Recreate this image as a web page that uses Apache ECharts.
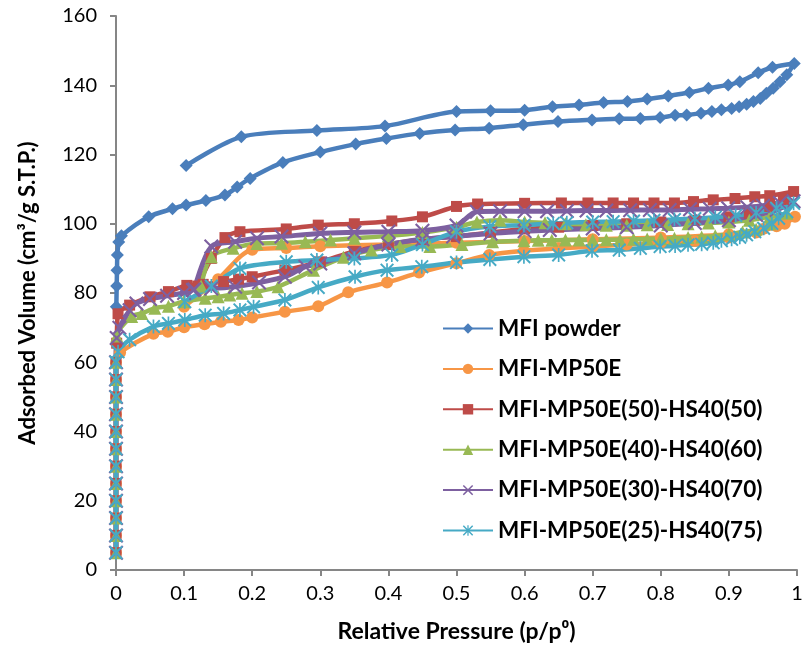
<!DOCTYPE html>
<html>
<head>
<meta charset="utf-8">
<script src="https://cdn.jsdelivr.net/npm/echarts@6/dist/echarts.min.js"></script>
<style>html,body{margin:0;padding:0;background:#fff}#c{width:806px;height:652px}</style>
</head>
<body>
<div id="c"></div>
<script>
// ---- data ----
const seriesNames = ["MFI powder","MFI-MP50E","MFI-MP50E(50)-HS40(50)","MFI-MP50E(40)-HS40(60)","MFI-MP50E(30)-HS40(70)","MFI-MP50E(25)-HS40(75)"];
const xTicks = [0,0.1,0.2,0.3,0.4,0.5,0.6,0.7,0.8,0.9,1];
const yTicks = [0,20,40,60,80,100,120,140,160];

const mfiPowder = [[0.0005,76],[0.001,82],[0.0015,86.6],[0.002,91],[0.004,94.7],[0.008,96.5],
 [0.048,102],[0.083,104.3],[0.103,105.4],[0.132,106.7],[0.160,108.3],[0.178,110.6],[0.197,113.1],[0.245,117.7],[0.30,120.7],[0.352,123],[0.397,124.6],[0.446,126.1],[0.498,127.1],[0.548,127.6],[0.598,128.6],[0.649,129.5],[0.699,130],[0.739,130.3],[0.770,130.4],[0.799,130.7],[0.821,131.3],[0.838,131.4],[0.859,131.9],[0.875,132.4],[0.889,132.9],[0.904,133.3],[0.915,133.8],[0.926,134.5],[0.936,135.3],[0.946,136.2],[0.955,137.7],[0.965,139.1],[0.975,141],[0.985,143],[0.996,146.3],
 [0.964,145.2],[0.943,143.6],[0.916,141],[0.899,140.1],[0.870,139.1],[0.842,137.9],[0.811,136.9],[0.780,136],[0.751,135.3],[0.716,135],[0.680,134.3],[0.641,133.8],[0.600,132.8],[0.550,132.6],[0.500,132.4],[0.395,128.2],[0.295,126.9],[0.184,125.1],[0.103,116.8]];

const mp50e = [[0,5],[0,10],[0,15],[0,20],[0,25],[0,30],[0,35],[0,40],[0,45],[0,50],[0,55],[0,60],
 [0.006,62.8],[0.055,68.2],[0.076,68.8],[0.100,70.1],[0.130,71],[0.154,71.7],[0.180,72.2],[0.200,72.9],[0.248,74.6],[0.297,76.2],[0.341,80.2],[0.398,83],[0.445,85.9],[0.500,88.6],[0.548,91],[0.599,92.2],[0.650,92.9],[0.700,93.4],[0.750,94],[0.800,94.5],[0.850,95],[0.900,96],[0.940,97.5],[0.970,99.3],[0.997,102],
 [0.982,100],[0.95,98.5],[0.9,97],[0.8,96],[0.7,95.5],[0.6,95],[0.5,94.5],[0.4,94],[0.3,93.5],[0.25,93],[0.2,92.5],[0.15,84],[0.1,76]];

const hs50 = [[0,5],[0,10],[0,15],[0,20],[0,25],[0,30],[0,35],[0,40],[0,45],[0,50],[0,55],[0,60],
 [0.001,65.5],[0.003,74],[0.02,76.5],[0.05,78.9],[0.077,80.4],[0.104,82.2],[0.128,82.5],[0.158,83.3],[0.18,84],[0.2,84.7],[0.248,86.6],[0.3,89],[0.35,92],[0.4,94],[0.45,95.5],[0.5,96.3],[0.55,97.5],[0.6,98.5],[0.65,99],[0.7,99.5],[0.75,100],[0.8,100.5],[0.85,101],[0.9,102],[0.93,103],[0.96,105],[0.98,107],[0.995,109.3],
 [0.96,108.1],[0.938,107.8],[0.909,107.3],[0.877,106.9],[0.848,106.4],[0.82,106],[0.79,106],[0.76,106],[0.73,106],[0.693,106],[0.654,106],[0.6,105.9],[0.531,105.7],[0.5,105],[0.45,102],[0.405,100.8],[0.35,100],[0.297,99.6],[0.25,98.5],[0.182,97.7],[0.16,96],[0.14,90],[0.12,82]];

const hs60 = [[0,5],[0,10],[0,15],[0,20],[0,25],[0,30],[0,35],[0,40],[0,45],[0,50],[0,55],[0,60],
 [0.001,67.6],[0.023,73.2],[0.038,74.1],[0.057,75.6],[0.077,76.2],[0.099,77.5],[0.131,78.5],[0.15,78.9],[0.167,79.4],[0.185,79.9],[0.207,80.4],[0.238,81.8],[0.29,86.6],[0.334,90.3],[0.375,92.4],[0.417,93.4],[0.461,93.4],[0.508,94],[0.553,94.8],[0.599,95.1],[0.62,95.2],[0.64,95.2],[0.66,95.3],[0.68,95.3],[0.70,95.3],[0.72,95.4],[0.74,95.4],[0.76,95.5],[0.78,95.6],[0.80,95.7],[0.82,95.8],[0.84,96],[0.86,96.2],[0.88,96.5],[0.9,97],[0.92,97.6],[0.94,98.4],[0.96,100],[0.985,103],
 [0.96,102],[0.93,101],[0.9,100.5],[0.87,100.2],[0.84,100],[0.81,99.8],[0.78,99.7],[0.75,99.6],[0.72,99.6],[0.69,99.7],[0.66,100],[0.63,100.3],[0.6,100.5],[0.564,101],[0.53,100.5],[0.5,99],[0.45,97.5],[0.4,96.5],[0.35,95.8],[0.315,95.3],[0.278,94.8],[0.243,94.4],[0.207,94.3],[0.172,92.9],[0.14,90.5],[0.125,82]];

const hs70 = [[0,5],[0,10],[0,15],[0,20],[0,25],[0,30],[0,35],[0,40],[0,45],[0,50],[0,55],[0,60],
 [0.001,67],[0.005,70],[0.02,75],[0.03,77],[0.05,78.3],[0.075,79.2],[0.1,80],[0.113,80.9],[0.14,81.3],[0.175,81.8],[0.21,83],[0.248,84.7],[0.278,87.6],[0.3,88.5],[0.35,91.5],[0.4,94],[0.45,95.5],[0.495,96.3],[0.55,97.2],[0.6,97.8],[0.637,98.2],[0.7,98.6],[0.75,99],[0.8,99.5],[0.85,100.2],[0.9,101],[0.94,102.5],[0.97,104],[0.995,106.5],
 [0.975,106],[0.95,105.2],[0.927,104.8],[0.899,104.5],[0.872,104.3],[0.843,104.2],[0.813,104],[0.784,104],[0.755,103.9],[0.72,103.8],[0.691,103.8],[0.662,103.7],[0.633,103.6],[0.6,103.6],[0.564,103.6],[0.53,103.5],[0.5,99.5],[0.45,98],[0.4,97.7],[0.35,97.5],[0.3,97.2],[0.243,96.3],[0.207,95.8],[0.175,94.8],[0.14,93.4],[0.115,81]];

const hs75 = [[0,5],[0,10],[0,15],[0,20],[0,25],[0,30],[0,35],[0,40],[0,45],[0,50],[0,55],[0,60],
 [0.003,63],[0.02,66.5],[0.055,70.3],[0.077,71.2],[0.101,72.2],[0.131,73.6],[0.158,74.1],[0.182,75.1],[0.202,76],[0.248,78],[0.297,81.6],[0.351,84.7],[0.398,86.6],[0.449,87.6],[0.5,88.8],[0.549,89.7],[0.599,90.5],[0.65,91],[0.699,92.2],[0.739,92.4],[0.77,92.9],[0.799,93.4],[0.821,93.6],[0.84,93.9],[0.86,94.1],[0.877,94.5],[0.889,95.1],[0.904,95.5],[0.916,96.1],[0.926,96.8],[0.938,97.7],[0.951,98.7],[0.963,100.1],[0.973,101.6],[0.985,103.5],[0.995,105.9],
 [0.97,104.5],[0.94,103.2],[0.91,102.4],[0.88,101.9],[0.85,101.5],[0.82,101.2],[0.79,101],[0.76,100.8],[0.73,100.6],[0.7,100.5],[0.662,100.3],[0.642,100.1],[0.599,99.6],[0.549,99.2],[0.5,97.7],[0.45,94],[0.405,91],[0.35,90],[0.295,89.5],[0.25,89],[0.182,87.1],[0.14,82],[0.101,77.5]];

const seriesData = [mfiPowder, mp50e, hs50, hs60, hs70, hs75];
const colors = ['#4A7EBB','#F79646','#BE4B48','#98B954','#7D60A0','#46AAC5'];
const xPath = 'M0,2 L2,0 L10,8 L18,0 L20,2 L12,10 L20,18 L18,20 L10,12 L2,20 L0,18 L8,10 Z';
const symbols = ['diamond','circle','rect','triangle','path://' + xPath, 'path://' + xPath + ' M8.8,0 L11.2,0 L11.2,20 L8.8,20 Z'];
const symSizes = [13,12,11,13,15,14];
const lineWidths = [4.5,4.5,4.5,4.5,5,4.5];

const chart = echarts.init(document.getElementById('c'), null, {renderer:'canvas'});
const font = 'Lato, "Open Sans", sans-serif';
chart.setOption({
  animation:false,
  backgroundColor:'#fff',
  grid:{left:116,right:9,top:16,bottom:82,containLabel:false},
  legend:{
    orient:'vertical', left:437, top:312,
    itemWidth:50, itemHeight:13, itemGap:17.4,
    textStyle:{fontFamily:font,fontWeight:'bold',fontSize:22.5,color:'#000',lineHeight:22},
    data:seriesNames
  },
  xAxis:{type:'value',min:0,max:1,interval:0.1,
    name:'Relative Pressure (p/p\u2070)',nameLocation:'middle',nameGap:50,
    nameTextStyle:{fontFamily:font,fontWeight:'bold',fontSize:23,color:'#000'},
    axisLine:{show:true,lineStyle:{color:'#868686',width:2}},
    axisTick:{show:true,length:6,lineStyle:{color:'#868686',width:2}},
    axisLabel:{fontFamily:font,fontSize:20,color:'#000',margin:14},
    splitLine:{show:false}},
  yAxis:{type:'value',min:0,max:160,interval:20,
    name:'Adsorbed Volume (cm\u00B3/g S.T.P.)',nameLocation:'middle',nameGap:77,
    nameTextStyle:{fontFamily:font,fontWeight:'bold',fontSize:22,color:'#000'},
    axisLine:{show:true,lineStyle:{color:'#868686',width:2}},
    axisTick:{show:true,length:6,lineStyle:{color:'#868686',width:2}},
    axisLabel:{fontFamily:font,fontSize:20,color:'#000',margin:19},
    splitLine:{show:false}},
  series: seriesData.map((d,i)=>({
    name:seriesNames[i], type:'line', data:d, smooth:0.3, clip:false,
    symbol:symbols[i], symbolSize:symSizes[i], showAllSymbol:true,
    lineStyle:{color:colors[i],width:lineWidths[i]},
    itemStyle:{color:colors[i]},
    emphasis:{disabled:true}
  }))
});
</script>
</body>
</html>
